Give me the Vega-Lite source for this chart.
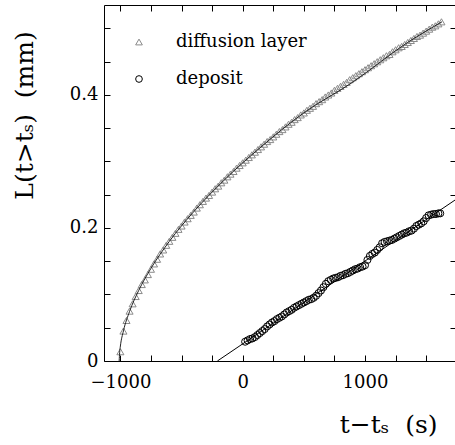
{
  "$schema": "https://vega.github.io/schema/vega-lite/v6.json",
  "autosize": {"type": "none"},
  "padding": {"left": 104, "top": 5, "right": 0, "bottom": 84},
  "width": 352,
  "height": 356,
  "background": "white",
  "config": {
    "view": {"stroke": "black", "strokeWidth": 1},
    "font": "DejaVu Serif",
    "axis": {"domain": false, "grid": false, "tickColor": "black", "tickWidth": 1, "tickSize": -6,
      "labelFont": "DejaVu Serif", "labelFontSize": 18, "labelColor": "black",
      "titleFont": "DejaVu Serif", "titleFontWeight": "normal", "titleColor": "black", "titleFontSize": 22}
  },
  "datasets": {
    "pts": [
      {"series":"diffusion layer","t":-1000,"L":0.014},{"series":"diffusion layer","t":-975,"L":0.045},{"series":"diffusion layer","t":-950,"L":0.061},{"series":"diffusion layer","t":-925,"L":0.075},{"series":"diffusion layer","t":-900,"L":0.086},{"series":"diffusion layer","t":-875,"L":0.097},{"series":"diffusion layer","t":-850,"L":0.106},{"series":"diffusion layer","t":-825,"L":0.115},{"series":"diffusion layer","t":-800,"L":0.122},{"series":"diffusion layer","t":-775,"L":0.130},{"series":"diffusion layer","t":-750,"L":0.138},{"series":"diffusion layer","t":-725,"L":0.146},{"series":"diffusion layer","t":-700,"L":0.153},{"series":"diffusion layer","t":-675,"L":0.161},{"series":"diffusion layer","t":-650,"L":0.167},{"series":"diffusion layer","t":-625,"L":0.174},{"series":"diffusion layer","t":-600,"L":0.180},{"series":"diffusion layer","t":-575,"L":0.186},{"series":"diffusion layer","t":-550,"L":0.192},{"series":"diffusion layer","t":-525,"L":0.198},{"series":"diffusion layer","t":-500,"L":0.203},{"series":"diffusion layer","t":-475,"L":0.209},{"series":"diffusion layer","t":-450,"L":0.214},{"series":"diffusion layer","t":-425,"L":0.219},{"series":"diffusion layer","t":-400,"L":0.224},{"series":"diffusion layer","t":-375,"L":0.230},{"series":"diffusion layer","t":-350,"L":0.235},{"series":"diffusion layer","t":-325,"L":0.240},{"series":"diffusion layer","t":-300,"L":0.245},{"series":"diffusion layer","t":-275,"L":0.249},{"series":"diffusion layer","t":-250,"L":0.254},{"series":"diffusion layer","t":-225,"L":0.259},{"series":"diffusion layer","t":-200,"L":0.263},{"series":"diffusion layer","t":-175,"L":0.268},{"series":"diffusion layer","t":-150,"L":0.272},{"series":"diffusion layer","t":-125,"L":0.277},{"series":"diffusion layer","t":-100,"L":0.281},{"series":"diffusion layer","t":-75,"L":0.285},{"series":"diffusion layer","t":-50,"L":0.290},{"series":"diffusion layer","t":-25,"L":0.294},{"series":"diffusion layer","t":0,"L":0.298},{"series":"diffusion layer","t":25,"L":0.302},{"series":"diffusion layer","t":50,"L":0.306},{"series":"diffusion layer","t":75,"L":0.310},{"series":"diffusion layer","t":100,"L":0.314},{"series":"diffusion layer","t":125,"L":0.318},{"series":"diffusion layer","t":150,"L":0.322},{"series":"diffusion layer","t":175,"L":0.326},{"series":"diffusion layer","t":200,"L":0.330},{"series":"diffusion layer","t":225,"L":0.333},{"series":"diffusion layer","t":250,"L":0.337},{"series":"diffusion layer","t":275,"L":0.341},{"series":"diffusion layer","t":300,"L":0.345},{"series":"diffusion layer","t":325,"L":0.348},{"series":"diffusion layer","t":350,"L":0.352},{"series":"diffusion layer","t":375,"L":0.356},{"series":"diffusion layer","t":400,"L":0.359},{"series":"diffusion layer","t":425,"L":0.363},{"series":"diffusion layer","t":450,"L":0.366},{"series":"diffusion layer","t":475,"L":0.370},{"series":"diffusion layer","t":500,"L":0.373},{"series":"diffusion layer","t":525,"L":0.377},{"series":"diffusion layer","t":550,"L":0.380},{"series":"diffusion layer","t":575,"L":0.383},{"series":"diffusion layer","t":600,"L":0.387},{"series":"diffusion layer","t":625,"L":0.390},{"series":"diffusion layer","t":650,"L":0.393},{"series":"diffusion layer","t":675,"L":0.397},{"series":"diffusion layer","t":700,"L":0.400},{"series":"diffusion layer","t":725,"L":0.403},{"series":"diffusion layer","t":750,"L":0.407},{"series":"diffusion layer","t":775,"L":0.410},{"series":"diffusion layer","t":800,"L":0.413},{"series":"diffusion layer","t":825,"L":0.416},{"series":"diffusion layer","t":850,"L":0.419},{"series":"diffusion layer","t":875,"L":0.423},{"series":"diffusion layer","t":900,"L":0.426},{"series":"diffusion layer","t":925,"L":0.429},{"series":"diffusion layer","t":950,"L":0.432},{"series":"diffusion layer","t":975,"L":0.435},{"series":"diffusion layer","t":1000,"L":0.438},{"series":"diffusion layer","t":1025,"L":0.441},{"series":"diffusion layer","t":1050,"L":0.444},{"series":"diffusion layer","t":1075,"L":0.447},{"series":"diffusion layer","t":1100,"L":0.450},{"series":"diffusion layer","t":1125,"L":0.453},{"series":"diffusion layer","t":1150,"L":0.456},{"series":"diffusion layer","t":1175,"L":0.459},{"series":"diffusion layer","t":1200,"L":0.461},{"series":"diffusion layer","t":1225,"L":0.465},{"series":"diffusion layer","t":1250,"L":0.468},{"series":"diffusion layer","t":1275,"L":0.471},{"series":"diffusion layer","t":1300,"L":0.473},{"series":"diffusion layer","t":1325,"L":0.476},{"series":"diffusion layer","t":1350,"L":0.479},{"series":"diffusion layer","t":1375,"L":0.482},{"series":"diffusion layer","t":1400,"L":0.485},{"series":"diffusion layer","t":1425,"L":0.488},{"series":"diffusion layer","t":1450,"L":0.490},{"series":"diffusion layer","t":1475,"L":0.493},{"series":"diffusion layer","t":1500,"L":0.496},{"series":"diffusion layer","t":1525,"L":0.499},{"series":"diffusion layer","t":1550,"L":0.502},{"series":"diffusion layer","t":1575,"L":0.504},{"series":"diffusion layer","t":1600,"L":0.507},{"series":"diffusion layer","t":1625,"L":0.510},
      {"series":"deposit","t":20,"L":0.029},{"series":"deposit","t":40,"L":0.031},{"series":"deposit","t":60,"L":0.033},{"series":"deposit","t":80,"L":0.034},{"series":"deposit","t":100,"L":0.036},{"series":"deposit","t":120,"L":0.039},{"series":"deposit","t":140,"L":0.042},{"series":"deposit","t":160,"L":0.045},{"series":"deposit","t":180,"L":0.048},{"series":"deposit","t":200,"L":0.052},{"series":"deposit","t":220,"L":0.055},{"series":"deposit","t":240,"L":0.058},{"series":"deposit","t":260,"L":0.060},{"series":"deposit","t":280,"L":0.063},{"series":"deposit","t":300,"L":0.065},{"series":"deposit","t":320,"L":0.067},{"series":"deposit","t":340,"L":0.070},{"series":"deposit","t":360,"L":0.073},{"series":"deposit","t":380,"L":0.075},{"series":"deposit","t":400,"L":0.077},{"series":"deposit","t":420,"L":0.080},{"series":"deposit","t":440,"L":0.082},{"series":"deposit","t":460,"L":0.084},{"series":"deposit","t":480,"L":0.086},{"series":"deposit","t":500,"L":0.088},{"series":"deposit","t":520,"L":0.090},{"series":"deposit","t":540,"L":0.092},{"series":"deposit","t":560,"L":0.093},{"series":"deposit","t":580,"L":0.095},{"series":"deposit","t":600,"L":0.098},{"series":"deposit","t":620,"L":0.102},{"series":"deposit","t":640,"L":0.106},{"series":"deposit","t":660,"L":0.111},{"series":"deposit","t":680,"L":0.116},{"series":"deposit","t":700,"L":0.120},{"series":"deposit","t":720,"L":0.122},{"series":"deposit","t":740,"L":0.124},{"series":"deposit","t":760,"L":0.125},{"series":"deposit","t":780,"L":0.126},{"series":"deposit","t":800,"L":0.128},{"series":"deposit","t":820,"L":0.129},{"series":"deposit","t":840,"L":0.131},{"series":"deposit","t":860,"L":0.132},{"series":"deposit","t":880,"L":0.134},{"series":"deposit","t":900,"L":0.136},{"series":"deposit","t":920,"L":0.138},{"series":"deposit","t":940,"L":0.139},{"series":"deposit","t":960,"L":0.141},{"series":"deposit","t":980,"L":0.142},{"series":"deposit","t":1000,"L":0.144},{"series":"deposit","t":1020,"L":0.152},{"series":"deposit","t":1040,"L":0.158},{"series":"deposit","t":1060,"L":0.161},{"series":"deposit","t":1080,"L":0.163},{"series":"deposit","t":1100,"L":0.167},{"series":"deposit","t":1120,"L":0.171},{"series":"deposit","t":1140,"L":0.177},{"series":"deposit","t":1160,"L":0.179},{"series":"deposit","t":1180,"L":0.180},{"series":"deposit","t":1200,"L":0.181},{"series":"deposit","t":1220,"L":0.182},{"series":"deposit","t":1240,"L":0.184},{"series":"deposit","t":1260,"L":0.186},{"series":"deposit","t":1280,"L":0.188},{"series":"deposit","t":1300,"L":0.190},{"series":"deposit","t":1320,"L":0.192},{"series":"deposit","t":1340,"L":0.193},{"series":"deposit","t":1360,"L":0.195},{"series":"deposit","t":1380,"L":0.196},{"series":"deposit","t":1400,"L":0.199},{"series":"deposit","t":1420,"L":0.203},{"series":"deposit","t":1440,"L":0.205},{"series":"deposit","t":1460,"L":0.207},{"series":"deposit","t":1480,"L":0.210},{"series":"deposit","t":1500,"L":0.215},{"series":"deposit","t":1520,"L":0.219},{"series":"deposit","t":1540,"L":0.220},{"series":"deposit","t":1560,"L":0.221},{"series":"deposit","t":1580,"L":0.221},{"series":"deposit","t":1600,"L":0.222},{"series":"deposit","t":1615,"L":0.222}
    ],
    "fitdiff": [
      {"t":-1010,"L":0.0},{"t":-1006,"L":0.013},{"t":-1000,"L":0.0225},{"t":-975,"L":0.0453},{"t":-925,"L":0.0745},{"t":-850,"L":0.1062},{"t":-750,"L":0.1393},{"t":-600,"L":0.1798},{"t":-400,"L":0.2246},{"t":-150,"L":0.2722},{"t":150,"L":0.3219},{"t":500,"L":0.3731},{"t":900,"L":0.4193},{"t":1350,"L":0.4791},{"t":1630,"L":0.5101}
    ],
    "fitdep": [
      {"t":-207,"L":0.0},{"t":1800,"L":0.250}
    ]
  },
  "resolve": {"axis": {"x": "independent", "y": "independent"}},
  "layer": [
    {
      "data": {"name": "pts"},
      "mark": {"type": "point", "filled": false, "strokeWidth": 1, "size": 50, "opacity": 1},
      "encoding": {
        "x": {"field": "t", "type": "quantitative", "scale": {"domain": [-1134, 1744], "nice": false, "zero": false},
          "axis": {"orient": "bottom", "values": [-1000,-750,-500,-250,0,250,500,750,1000,1250,1500],
            "labelExpr": "datum.value % 1000 === 0 ? format(datum.value, 'd') : ''", "labelPadding": 18,
            "title": "t\u2212t\u209b\u00a0\u00a0(s)", "titleAnchor": "end", "titleAlign": "right", "titleX": 333, "titleY": 71, "titleBaseline": "alphabetic", "titleFontSize": 25}},
        "y": {"field": "L", "type": "quantitative", "scale": {"domain": [0, 0.5353], "nice": false, "zero": false},
          "axis": {"orient": "left", "values": [0,0.05,0.1,0.15,0.2,0.25,0.3,0.35,0.4,0.45,0.5],
            "labelExpr": "datum.value === 0 ? '0' : (datum.value === 0.2 ? '0.2' : (datum.value === 0.4 ? '0.4' : ''))", "labelPadding": 12,
            "title": "L(t>t\u209b)\u00a0\u00a0(mm)", "titleX": -80, "titleY": 110, "titleAnchor": "middle", "titleAlign": "center", "titleBaseline": "middle", "titleAngle": -90, "titleFontSize": 25}},
        "color": {"field": "series", "type": "nominal", "scale": {"domain": ["diffusion layer", "deposit"], "range": ["#8a8a8a", "#000000"]},
          "legend": {"orient": "none", "legendX": 26, "legendY": 28, "title": null, "labelFont": "DejaVu Serif", "labelFontSize": 18, "labelColor": "black", "symbolSize": 45, "symbolStrokeWidth": 1, "labelOffset": 28, "rowPadding": 19, "padding": 0}},
        "shape": {"field": "series", "type": "nominal", "scale": {"domain": ["diffusion layer", "deposit"], "range": ["triangle-up", "circle"]}}
      }
    },
    {
      "data": {"name": "fitdep"},
      "mark": {"type": "line", "color": "black", "strokeWidth": 1, "clip": true},
      "encoding": {
        "x": {"field": "t", "type": "quantitative", "scale": {"domain": [-1134, 1744], "nice": false, "zero": false},
          "axis": {"orient": "top", "values": [-1000,-750,-500,-250,0,250,500,750,1000,1250,1500], "labels": false, "title": null}},
        "y": {"field": "L", "type": "quantitative", "scale": {"domain": [0, 0.5353], "nice": false, "zero": false},
          "axis": {"orient": "right", "values": [0,0.05,0.1,0.15,0.2,0.25,0.3,0.35,0.4,0.45,0.5], "labels": false, "title": null}}
      }
    },
    {
      "data": {"name": "fitdiff"},
      "mark": {"type": "line", "color": "#222222", "strokeWidth": 1, "interpolate": "monotone", "clip": true},
      "encoding": {
        "x": {"field": "t", "type": "quantitative", "axis": null},
        "y": {"field": "L", "type": "quantitative", "axis": null}
      }
    }
  ]
}
